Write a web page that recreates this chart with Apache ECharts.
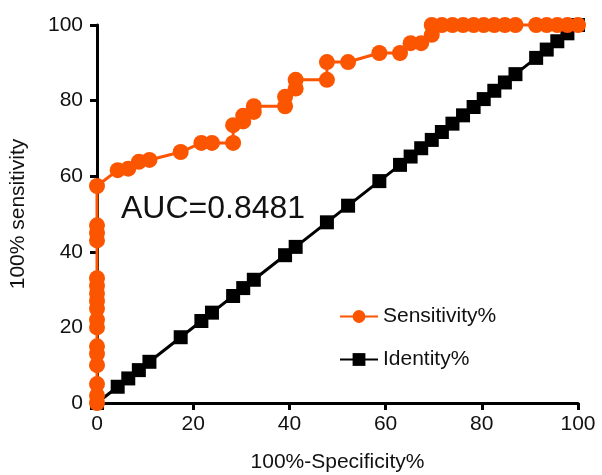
<!DOCTYPE html>
<html>
<head>
<meta charset="utf-8">
<script src="https://cdn.jsdelivr.net/npm/echarts@6/dist/echarts.min.js"></script>
<style>
    html, body { margin: 0; padding: 0; background: #fff; }
    #chart { width: 602px; height: 475px; }
</style>
</head>
<body>
<div id="chart"></div>
<script>
// ROC 数据 (100%-Specificity%, Sensitivity%)
let sensX = [0, 0, 0, 0, 0, 0, 0, 0, 0, 0, 0, 0, 0, 0, 0, 0, 0,
    4.3, 6.5, 8.7, 10.9, 17.4, 21.7, 23.9, 28.3, 28.3, 30.4, 30.4, 32.6, 32.6,
    39.1, 39.1, 41.3, 41.3, 47.8, 47.8, 52.2, 58.7, 63.0, 65.2, 67.4, 69.6, 69.6,
    71.7, 73.9, 76.1, 78.3, 80.4, 82.6, 84.8, 87.0, 91.3, 93.5, 95.7, 97.8, 100]
let sensY = [0, 2, 5, 10, 13, 15, 20, 22, 25, 27, 29, 31, 33, 43, 45, 47, 57.4,
    61.6, 62, 63.8, 64.3, 66.4, 68.8, 68.8, 68.8, 73.5, 74.5, 76, 77, 78.5,
    78.5, 81, 83.2, 85.5, 85.5, 90.2, 90.2, 92.6, 92.6, 95.2, 95.2, 97.4, 100,
    100, 100, 100, 100, 100, 100, 100, 100, 100, 100, 100, 100, 100]
// 参考线 (Identity%)
let idX = [0, 4.3, 6.5, 8.7, 10.9, 17.4, 21.7, 23.9, 28.3, 30.4, 32.6, 39.1, 41.3,
    47.8, 52.2, 58.7, 63.0, 65.2, 67.4, 69.6, 71.7, 73.9, 76.1, 78.3, 80.4,
    82.6, 84.8, 87.0, 91.3, 93.5, 95.7, 97.8, 100]
let idY = [0, 4.3, 6.5, 8.7, 10.9, 17.4, 21.7, 23.9, 28.3, 30.4, 32.6, 39.1, 41.3,
    47.8, 52.2, 58.7, 63.0, 65.2, 67.4, 69.6, 71.7, 73.9, 76.1, 78.3, 80.4,
    82.6, 84.8, 87.0, 91.3, 93.5, 95.7, 97.8, 100]
let xTicks = [0, 20, 40, 60, 80, 100]
let yTicks = [0, 20, 40, 60, 80, 100]
let aucText = 'AUC=0.8481'

let orange = '#fc5500'
let font = 'Liberation Sans, Arial, sans-serif'

let sensData = sensX.map((x, i) => [x, sensY[i]])
let idData = idX.map((x, i) => [x, idY[i]])

let myChart = echarts.init(document.getElementById('chart'))

let axisCommon = {
    type: 'value',
    min: 0,
    max: 100,
    interval: 20,
    splitLine: { show: false },
    axisLine: { show: true, lineStyle: { color: '#000', width: 3 } },
    axisTick: { show: true, inside: false, length: 7, lineStyle: { color: '#000', width: 3 } },
    nameTextStyle: { color: '#111', fontSize: 21, fontFamily: font }
}

let option = {
    backgroundColor: '#fff',
    animation: false,
    grid: { left: 97, right: 24, top: 25, bottom: 72, containLabel: false, outerBoundsMode: 'none' },
    xAxis: Object.assign({}, axisCommon, {
        name: '100%-Specificity%',
        nameLocation: 'middle',
        nameGap: 49,
        axisLabel: {
            color: '#111', fontSize: 21, fontFamily: font, margin: 11,
            formatter: v => xTicks.indexOf(v) >= 0 ? String(v) : ''
        }
    }),
    yAxis: Object.assign({}, axisCommon, {
        name: '100% sensitivity',
        nameLocation: 'middle',
        nameGap: 68,
        axisLabel: {
            color: '#111', fontSize: 21, fontFamily: font, margin: 14,
            formatter: v => yTicks.indexOf(v) >= 0 ? String(v) : ''
        }
    }),
    legend: {
        orient: 'vertical',
        left: 334,
        top: 301,
        itemWidth: 38,
        itemHeight: 16,
        itemGap: 22,
        textStyle: { color: '#111', fontSize: 21, fontFamily: font, padding: [0, 0, 0, 0] },
        data: ['Sensitivity%', 'Identity%']
    },
    graphic: [{
        type: 'text',
        left: 121,
        top: 193,
        style: { text: aucText, fill: '#111', fontSize: 32, fontFamily: font }
    }],
    series: [
        {
            name: 'Identity%',
            type: 'line',
            data: idData,
            symbol: 'rect',
            symbolSize: 14,
            clip: false,
            z: 2,
            itemStyle: { color: '#000' },
            lineStyle: { color: '#000', width: 3 }
        },
        {
            name: 'Sensitivity%',
            type: 'line',
            data: sensData,
            symbol: 'circle',
            symbolSize: 16,
            clip: false,
            z: 3,
            itemStyle: { color: orange },
            lineStyle: { color: orange, width: 3 }
        }
    ]
}
myChart.setOption(option)
</script>
</body>
</html>
